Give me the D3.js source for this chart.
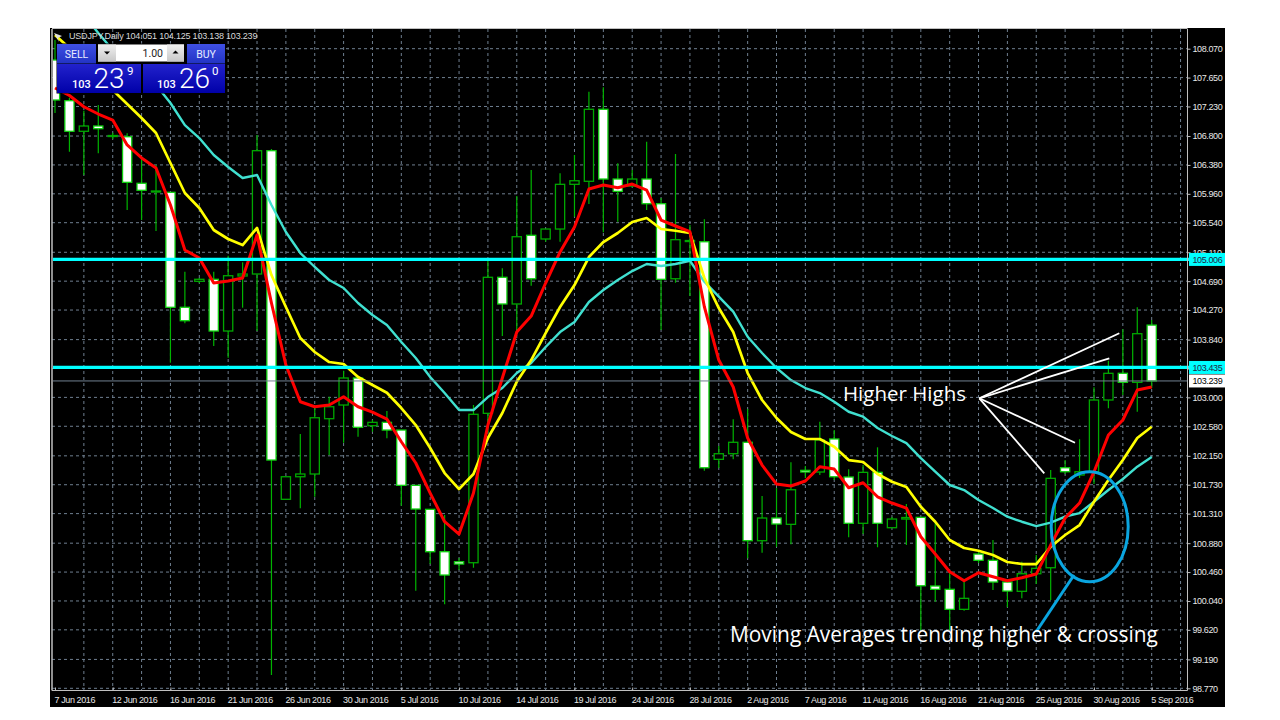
<!DOCTYPE html>
<html><head><meta charset="utf-8">
<script src="https://cdn.jsdelivr.net/npm/d3@7"></script>
<style>html,body{margin:0;padding:0;background:#fff;overflow:hidden}svg{display:block}text{font-family:"Liberation Sans",sans-serif}</style>
</head><body><svg id="c" width="1280" height="720"></svg>
<script>
const axisDates=["7 Jun 2016","12 Jun 2016","16 Jun 2016","21 Jun 2016","26 Jun 2016","30 Jun 2016","5 Jul 2016","10 Jul 2016","14 Jul 2016","19 Jul 2016","24 Jul 2016","28 Jul 2016","2 Aug 2016","7 Aug 2016","11 Aug 2016","16 Aug 2016","21 Aug 2016","25 Aug 2016","30 Aug 2016","5 Sep 2016"];
const priceTicks=[108.07,107.65,107.23,106.8,106.38,105.96,105.54,105.11,104.69,104.27,103.84,103.42,103,102.58,102.15,101.73,101.31,100.88,100.46,100.04,99.62,99.19,98.77];
// upper and lower edge of each candle body, and the direction flag (1 = up/hollow, 0 = down/white)
const bodyTop=[107.906,107.314,106.946,106.946,106.808,106.790,106.113,106.001,105.982,104.310,104.717,104.717,104.769,104.794,106.587,106.587,101.846,101.886,102.704,102.864,103.282,103.282,102.637,102.637,102.525,101.721,101.372,100.756,100.610,102.754,104.746,104.746,105.336,105.357,105.448,106.098,106.150,107.189,107.189,106.175,106.175,106.175,105.816,105.293,105.281,105.263,102.181,102.347,102.347,101.246,101.246,101.657,101.939,102.380,102.395,101.842,101.910,101.910,101.231,101.253,101.256,100.257,100.209,100.078,100.722,100.631,100.315,100.436,100.514,101.823,101.977,101.919,102.962,103.350,103.350,103.926,104.051];
const bodyBottom=[107.324,106.869,106.869,106.907,106.793,106.127,106.011,105.986,104.310,104.115,104.688,103.965,103.965,104.765,104.794,102.089,101.518,101.846,101.886,102.690,102.889,102.565,102.588,102.525,101.721,101.377,100.756,100.417,100.577,100.596,102.768,104.358,104.358,104.725,105.303,105.448,106.098,106.142,106.175,105.996,106.073,105.816,104.717,104.725,105.266,101.977,102.099,102.181,100.916,100.916,101.159,101.154,101.915,101.915,101.846,101.169,101.169,101.169,101.105,101.231,100.261,100.209,99.918,99.918,100.631,100.315,100.184,100.180,100.436,100.523,101.919,101.871,101.915,102.962,103.219,103.219,103.239];
const highs=[108.196,107.353,107.168,107.251,106.848,106.840,106.481,106.379,105.986,104.827,104.736,104.827,105.060,104.964,106.815,106.611,101.846,102.467,102.845,103.010,103.388,103.282,102.671,102.802,102.525,101.721,101.372,101.289,100.664,102.889,104.997,104.877,105.928,106.306,105.448,106.258,106.524,107.445,107.509,106.403,106.306,106.718,105.899,106.539,105.506,105.589,102.293,102.681,102.831,101.566,101.682,102.056,102.002,102.646,102.525,101.954,102.016,102.274,101.260,101.449,101.256,101.173,100.446,100.344,100.751,100.926,100.315,100.610,100.708,101.944,102.089,102.390,103.146,103.533,103.990,104.310,104.125];
const lows=[107.135,106.572,106.233,106.549,106.757,105.724,105.579,105.419,103.504,104.077,104.663,103.747,103.577,104.304,103.965,98.963,101.518,101.387,101.556,102.162,102.341,102.428,102.501,102.405,101.425,100.189,100.577,99.991,100.490,100.523,102.482,103.892,103.936,104.624,105.263,105.263,105.627,105.812,105.400,105.554,106.059,105.724,103.979,104.667,104.474,101.934,101.973,102.099,100.660,100.741,100.828,100.863,101.827,101.871,101.798,100.965,101.013,100.820,101.100,100.853,99.617,100.029,99.617,99.898,100.591,100.199,99.947,100.078,100.286,100.053,101.886,101.827,101.740,102.841,103.034,102.791,103.138];
const isUp=[0,0,1,0,1,0,0,1,0,0,1,0,1,1,1,0,1,1,1,1,1,0,1,0,0,0,0,0,0,1,1,0,1,0,1,1,1,1,0,0,1,0,0,1,1,0,1,1,0,1,0,1,0,1,0,0,1,0,1,1,0,0,0,1,0,0,0,1,1,1,0,1,1,1,0,1,0];
const maFast=[107.498,107.389,107.226,107.120,107.033,106.670,106.481,106.335,105.797,105.143,105.026,104.663,104.692,104.736,105.361,104.372,103.471,102.937,102.864,102.889,103.010,102.864,102.787,102.685,102.355,102.046,101.609,101.192,101.013,101.609,102.598,103.282,103.950,104.183,104.663,105.114,105.477,106.030,106.088,106.049,106.102,106.015,105.579,105.492,105.409,104.318,103.543,103.151,102.409,102.016,101.740,101.711,101.784,101.992,101.958,101.686,101.759,101.555,101.464,101.391,100.974,100.722,100.465,100.334,100.450,100.392,100.334,100.378,100.431,100.853,101.246,101.464,101.915,102.453,102.671,103.107,103.151];
const maMid=[108.269,108.080,107.876,107.658,107.469,107.266,107.062,106.844,106.408,105.972,105.753,105.434,105.303,105.215,105.463,104.779,104.314,103.863,103.660,103.514,103.485,103.296,103.180,103.068,102.845,102.598,102.264,101.900,101.667,101.886,102.409,102.773,103.228,103.543,103.936,104.314,104.634,105.041,105.259,105.390,105.550,105.608,105.448,105.423,105.390,104.736,104.299,103.950,103.354,102.962,102.700,102.496,102.395,102.395,102.282,102.089,102.060,101.886,101.774,101.697,101.410,101.192,100.926,100.810,100.770,100.708,100.606,100.577,100.577,100.828,100.999,101.144,101.483,101.798,102.089,102.409,102.573];
const maSlow=[109.069,108.778,108.560,108.298,108.051,107.876,107.687,107.542,107.280,106.960,106.771,106.524,106.350,106.190,106.233,105.797,105.405,105.099,104.896,104.707,104.590,104.372,104.198,104.052,103.805,103.572,103.296,103.063,102.816,102.816,103.005,103.136,103.354,103.500,103.732,103.950,104.096,104.387,104.561,104.707,104.837,104.939,104.910,104.939,104.987,104.682,104.464,104.246,103.882,103.645,103.427,103.252,103.136,103.063,102.937,102.791,102.719,102.555,102.438,102.336,102.118,101.919,101.726,101.653,101.507,101.391,101.265,101.192,101.129,101.178,101.265,101.318,101.483,101.653,101.813,101.992,102.133];
const levels=[105.006,103.435];
const lastPrice=103.239;

const svg=d3.select("#c");
const x=d3.scaleLinear().domain([0,76]).range([55,1151.7]);
const y=d3.scaleLinear().domain([98.77,108.07]).range([688.3,48.7]);
const PL=52,PR=1187.5,PT=29,PB=690.5;
const barIdx=d3.range(isUp.length);
const grid="#6f7f90";

const defs=svg.append("defs");
defs.append("clipPath").attr("id","plot").append("rect").attr("x",PL+1).attr("y",PT).attr("width",PR-PL-1).attr("height",PB-PT);
function grad(id,a,b){const g=defs.append("linearGradient").attr("id",id).attr("x1",0).attr("x2",0).attr("y1",0).attr("y2",1);g.append("stop").attr("offset",0).attr("stop-color",a);g.append("stop").attr("offset",1).attr("stop-color",b);}
grad("btn","#3f50e4","#2233c4");grad("big","#2222cc","#0000a8");grad("gray","#f0f0f0","#c8c8c8");

svg.append("rect").attr("x",50).attr("y",28).attr("width",1175).attr("height",679).attr("fill","#000");

// grid
const gridG=svg.append("g").attr("stroke",grid).attr("stroke-width",1).attr("stroke-dasharray","3 3");
gridG.selectAll("line.h").data(priceTicks).join("line").attr("class","h").attr("x1",PL).attr("x2",PR).attr("y1",d=>y(d)).attr("y2",d=>y(d));
gridG.selectAll("line.v").data(d3.range(2,80,2)).join("line").attr("class","v").attr("x1",d=>x(d)).attr("x2",d=>x(d)).attr("y1",PT).attr("y2",PB);

const plot=svg.append("g").attr("clip-path","url(#plot)");
const green="#00b400";
// wicks
plot.append("g").attr("stroke",green).attr("stroke-width",1.2).selectAll("line").data(barIdx).join("line")
 .attr("x1",i=>x(i)).attr("x2",i=>x(i)).attr("y1",i=>y(highs[i])).attr("y2",i=>y(lows[i]));
// bodies
plot.append("g").selectAll("rect").data(barIdx).join("rect")
 .attr("x",i=>x(i)-4.6).attr("width",9.2)
 .attr("y",i=>y(bodyTop[i])).attr("height",i=>Math.max(y(bodyBottom[i])-y(bodyTop[i]),1))
 .attr("fill",i=>isUp[i]?"#000":"#fff").attr("stroke",i=>isUp[i]?"#00a800":"#10d010").attr("stroke-width",1.3);
// moving averages
const line=d3.line().x((d,i)=>x(i)).y(d=>y(d));
[[maSlow,"#40e0d0",2.4],[maMid,"#ffff00",2.7],[maFast,"#ff0000",3]].forEach(([s,c,w])=>{
 plot.append("path").datum(s).attr("d",line).attr("fill","none").attr("stroke",c).attr("stroke-width",w).attr("stroke-linejoin","round");
});
// last price and horizontal levels
plot.append("line").attr("x1",PL).attr("x2",PR).attr("y1",y(lastPrice)).attr("y2",y(lastPrice)).attr("stroke","#708090").attr("stroke-width",1);
svg.append("g").selectAll("line").data(levels).join("line").attr("x1",PL+1).attr("x2",1190).attr("y1",d=>y(d)).attr("y2",d=>y(d)).attr("stroke","#00ffff").attr("stroke-width",3.2);

// axes
const axisFont="Liberation Sans";
const yAxis=d3.axisRight(y).tickValues(priceTicks).tickSize(3).tickPadding(2).tickFormat(d3.format(".3f"));
const yg=svg.append("g").attr("transform",`translate(${PR},0)`).call(yAxis);
yg.select(".domain").attr("stroke","#c0c0c0").attr("d",`M0,${PT}V${PB}`);
yg.selectAll(".tick line").attr("stroke","#c0c0c0");
yg.selectAll(".tick text").attr("fill","#e8e8e8").style("font-size","9px").style("letter-spacing","-0.4px").style("font-family",axisFont).attr("x",5);
yg.selectAll(".tick").filter(d=>d===103.42).select("text").remove();

const xAxis=d3.axisBottom(x).tickValues(axisDates.map((d,i)=>i*4)).tickSize(3).tickFormat((d,i)=>axisDates[i]);
const xg=svg.append("g").attr("transform",`translate(0,${PB})`).call(xAxis);
xg.select(".domain").attr("stroke","#c0c0c0").attr("d",`M${PL},0H${PR}`);
xg.selectAll(".tick line").attr("stroke","#c0c0c0").attr("y2",-3);
xg.selectAll(".tick text").attr("fill","#e8e8e8").style("font-size","9px").style("letter-spacing","-0.4px").style("font-family",axisFont).attr("text-anchor","start").attr("x",-1).attr("y",6);
svg.append("line").attr("x1",PL).attr("x2",PL).attr("y1",PT).attr("y2",PB).attr("stroke","#c0c0c0").attr("stroke-width",1.5);
svg.append("line").attr("x1",PL).attr("x2",PR).attr("y1",PT-.5).attr("y2",PT-.5).attr("stroke","#c0c0c0");

// price tags
function tag(v,bg,fg){const yy=y(v);
 svg.append("rect").attr("x",1189).attr("y",yy-6.5).attr("width",36).attr("height",13).attr("fill",bg);
 svg.append("text").attr("x",1192.5).attr("y",yy+3.4).attr("fill",fg).style("font-size","9px").style("letter-spacing","-0.4px").text(v.toFixed(3));}
tag(levels[0],"#00ffff","#224");tag(levels[1],"#00ffff","#224");tag(lastPrice,"#fff","#000");

// header
svg.append("path").attr("d","M54,33L62,36L58,38L59,42Z").attr("fill","#ddd");
svg.append("text").attr("x",69).attr("y",38.5).attr("fill","#d8d8d8").style("font-size","9px").style("letter-spacing","-0.2px").text("USDJPY,Daily  104.051 104.125 103.138 103.239");

// trade panel
const p=svg.append("g");
function rect(X,Y,W,H,f,s){return p.append("rect").attr("x",X).attr("y",Y).attr("width",W).attr("height",H).attr("fill",f).attr("stroke",s||"none");}
function txt(X,Y,t,size,fill,anchor,fam){return p.append("text").attr("x",X).attr("y",Y).attr("fill",fill).attr("text-anchor",anchor||"start").style("font-size",size+"px").style("font-family",fam||"Roboto").text(t);}
rect(56.5,43.5,169,50,"#000");
rect(57,44,39,19.5,"url(#btn)");rect(187,44,38,19.5,"url(#btn)");
txt(76.5,57.5,"SELL",10.5,"#e8ecff","middle");txt(206,57.5,"BUY",10.5,"#e8ecff","middle");
rect(98,44.5,86,17,"#fff");rect(98,44.5,18,17,"url(#gray)");rect(167,44.5,17,17,"url(#gray)");
p.append("path").attr("d","M104,51.5h6l-3,3Z").attr("fill","#000");p.append("path").attr("d","M172.5,53.5h6l-3,-3Z").attr("fill","#000");
txt(163,56.5,"1.00",10.5,"#222","end");
rect(57,64,84,29,"url(#big)");rect(143,64,82,29,"url(#big)");
txt(72,88,"103",11,"#fff").style("font-weight",500);txt(93.5,88,"23",28,"#fff",null,"Roboto").style("font-weight",300);txt(127,75,"9",11.5,"#fff");
txt(157,88,"103",11,"#fff").style("font-weight",500);txt(179,88,"26",28,"#fff",null,"Roboto").style("font-weight",300);txt(212,75,"0",11.5,"#fff");

// annotations
[[1119.3,333.3],[1109.3,358.3],[1075,442.7],[1044.3,473.3]].forEach(e=>{
 svg.append("line").attr("x1",979.3).attr("y1",398.3).attr("x2",e[0]).attr("y2",e[1]).attr("stroke","#fff").attr("stroke-width",1.8);});
svg.append("ellipse").attr("cx",1089.7).attr("cy",526.7).attr("rx",38.5).attr("ry",55).attr("fill","none").attr("stroke","#0aa5e0").attr("stroke-width",3);
svg.append("line").attr("x1",1074).attr("y1",575).attr("x2",1036).attr("y2",632).attr("stroke","#0aa5e0").attr("stroke-width",3);
svg.append("text").attr("x",843).attr("y",401).attr("fill","#fff").style("font-family","Open Sans").style("font-size","20.5px").text("Higher Highs");
svg.append("text").attr("x",730).attr("y",642).attr("fill","#fff").style("font-family","Open Sans").style("font-size","20.9px").text("Moving Averages trending higher & crossing");
</script></body></html>
